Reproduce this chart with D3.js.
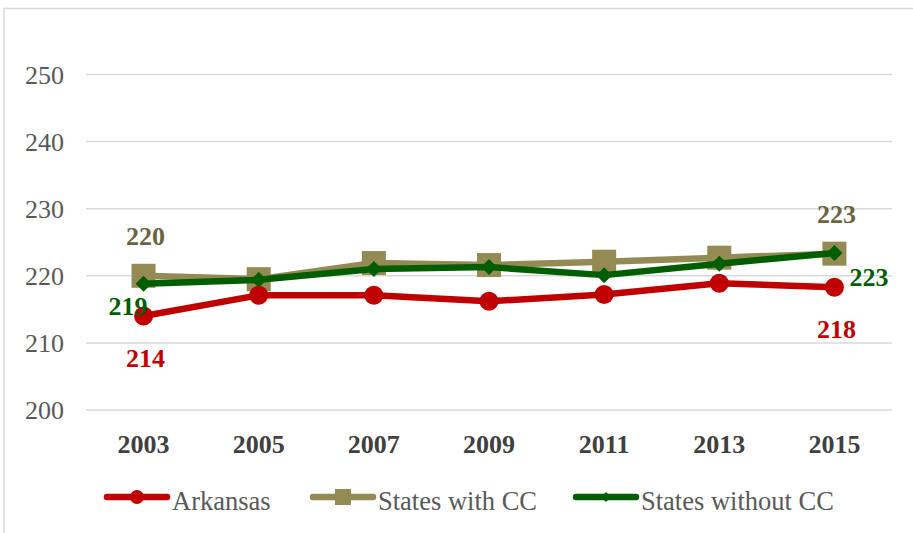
<!DOCTYPE html>
<html><head><meta charset="utf-8">
<script src="https://cdn.jsdelivr.net/npm/d3@7"></script>
<style>body{margin:0;background:#fff}</style>
</head><body>
<script>
const years = ["2003","2005","2007","2009","2011","2013","2015"];
const arkansas = [214, 217.1, 217.1, 216.2, 217.2, 218.9, 218.3];
const withCC = [220.0, 219.5, 221.9, 221.6, 222.1, 222.7, 223.3];
const withoutCC = [218.8, 219.4, 221.0, 221.3, 220.1, 221.8, 223.4];
const yTicks = [200, 210, 220, 230, 240, 250];
const seriesNames = ["Arkansas", "States with CC", "States without CC"];
const labels = [
  {series: 1, idx: 0, text: "220", pos: "above"},
  {series: 2, idx: 0, text: "219", pos: "left"},
  {series: 0, idx: 0, text: "214", pos: "below"},
  {series: 1, idx: 6, text: "223", pos: "above"},
  {series: 2, idx: 6, text: "223", pos: "right"},
  {series: 0, idx: 6, text: "218", pos: "below"}
];

const W = 913, H = 533;
const colors = ["#c00000", "#948a54", "#005e00"];
const labelColors = ["#c00000", "#6b6342", "#005e00"];
const font = "Liberation Serif";

const svg = d3.select("body").append("svg").attr("width", W).attr("height", H);
svg.append("rect").attr("x", 4).attr("y", 8.5).attr("width", W + 10).attr("height", H + 10)
  .attr("fill", "none").attr("stroke", "#d9d9d9").attr("stroke-width", 1.5);

const x = d3.scaleBand().domain(years).range([86, 892]);
const y = d3.scaleLinear().domain([200, 250]).range([410, 74.5]);

svg.append("g").selectAll("line").data(yTicks).join("line")
  .attr("x1", 86).attr("x2", 892).attr("y1", d => y(d)).attr("y2", d => y(d))
  .attr("stroke", "#d9d9d9").attr("stroke-width", 1.5);

const yAxis = d3.axisLeft(y).tickValues(yTicks).tickSize(0).tickPadding(0);
const ya = svg.append("g").attr("transform", "translate(64,0)").call(yAxis);
ya.select(".domain").remove();
ya.selectAll("text").style("font-family", font).style("font-size", "26px").attr("fill", "#595959").attr("dy", "0.34em");

const xAxis = d3.axisBottom(x).tickSize(0).tickPadding(0);
const xa = svg.append("g").attr("transform", "translate(0,453)").call(xAxis);
xa.select(".domain").remove();
xa.selectAll("text").attr("y", 0).attr("dy", 0).style("font-family", font).style("font-size", "26px").style("font-weight", "bold").attr("fill", "#404040");

const data = [arkansas, withCC, withoutCC];
const cx = d => x(d) + x.bandwidth() / 2;
const line = d3.line().x((d, i) => cx(years[i])).y(d => y(d));

function marker(sel, s, size) {
  if (s === 0) sel.append("circle").attr("r", size).attr("fill", colors[0]);
  else if (s === 1) sel.append("rect").attr("x", -size).attr("y", -size).attr("width", size * 2).attr("height", size * 2).attr("fill", colors[1]);
  else sel.append("path").attr("d", `M0,${-size}L${size},0L0,${size}L${-size},0Z`).attr("fill", colors[2]);
}

[1, 2, 0].forEach(s => {
  const sg = svg.append("g");
  sg.append("path").datum(data[s]).attr("d", line).attr("fill", "none")
    .attr("stroke", colors[s]).attr("stroke-width", 6.5).attr("stroke-linejoin", "round").attr("stroke-linecap", "round");
  const sizes = [9.5, 12, 8];
  data[s].forEach((v, i) => {
    const m = sg.append("g").attr("transform", `translate(${cx(years[i])},${y(v)})`);
    marker(m, s, sizes[s]);
  });
});

labels.forEach(l => {
  const px = cx(years[l.idx]), py = y(data[l.series][l.idx]);
  let tx = px, ty = py, anchor = "middle";
  if (l.pos === "above") { tx = px + 2; ty = py - 31; }
  else if (l.pos === "below") { tx = px + 2; ty = py + 51; }
  else if (l.pos === "left") { tx = px + 4; ty = py + 31; anchor = "end"; }
  else if (l.pos === "right") { tx = px + 15; ty = py + 33; anchor = "start"; }
  svg.append("text").attr("x", tx).attr("y", ty).attr("text-anchor", anchor)
    .style("font-family", font).style("font-size", "26px").style("font-weight", "bold")
    .attr("fill", labelColors[l.series]).text(l.text);
});

const legendX = [107, 313, 576];
const legendSizes = [7, 8, 5];
seriesNames.forEach((name, s) => {
  const lg = svg.append("g").attr("transform", `translate(${legendX[s]},497)`);
  lg.append("line").attr("x1", 0).attr("x2", 60).attr("stroke", colors[s]).attr("stroke-width", 6.5).attr("stroke-linecap", "round");
  const m = lg.append("g").attr("transform", "translate(30,0)");
  marker(m, s, legendSizes[s]);
  lg.append("text").attr("x", 65).attr("y", 13).style("font-family", font).style("font-size", "26.5px")
    .attr("fill", "#595959").text(name);
});
</script>
</body></html>
